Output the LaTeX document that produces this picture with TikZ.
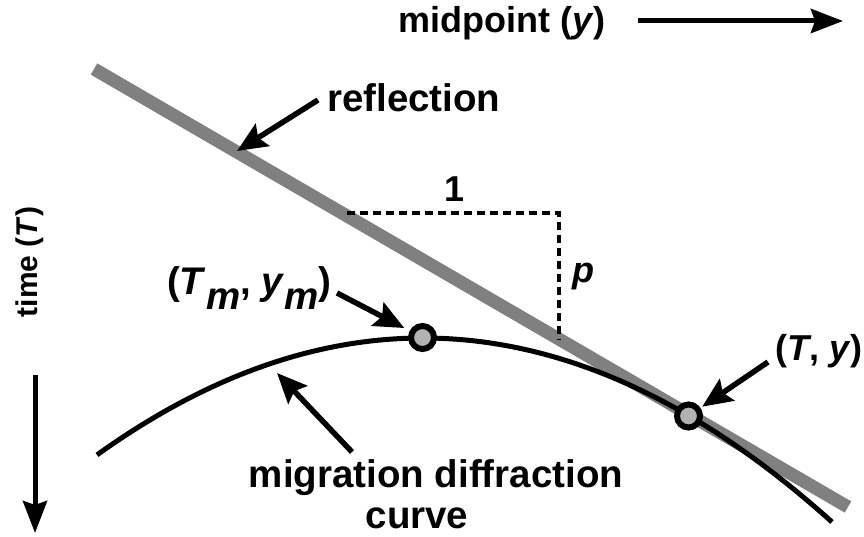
\documentclass[tikz,border=0pt]{standalone}
\usepackage{fontspec}
\setmainfont{Liberation Sans}
\usetikzlibrary{arrows.meta}
\begin{document}
\begin{tikzpicture}[x=1pt,y=-1pt,
  lbl/.style={font=\fontsize{36}{40}\selectfont\bfseries, inner sep=0pt},
  biglbl/.style={font=\fontsize{38.5}{42}\selectfont\bfseries, inner sep=0pt},
  ptr/.style={line width=5.5pt, -{Stealth[length=30pt,width=26pt,inset=5pt]}},
  axisarrow/.style={line width=5pt, -{Stealth[length=32pt,width=24pt,inset=4pt]}},
  pt/.style={circle, draw=black, line width=6pt, fill=black!30, minimum size=23pt, inner sep=0pt},
  refl/.style={line width=13pt, draw=black!50},
  guide/.style={line width=4.5pt, dash pattern=on 8pt off 5pt}]
\useasboundingbox (0,0) rectangle (864,537);
% reflection line
\coordinate (gA) at (94,69);
\coordinate (gB) at (848,507);
\draw[refl] (gA) -- (gB);
% slope triangle
\coordinate (d1) at (347,213);
\coordinate (d2) at (559,213);
\coordinate (d3) at (559,340);
\draw[guide] (d1) -- (d2) -- (d3);
% diffraction curve
\draw[line width=5pt] plot[domain=97:832, samples=90, smooth] (\x,{338+11*((\x-423)/100)^2});
% points
\node[pt] (pm) at (422.5,337.5) {};
\node[pt] (pr) at (688.5,416) {};
% labels
\node[lbl, anchor=base west] (mid) at (398,33) {midpoint (\textit{y})};
\node[biglbl, anchor=base west] (rlbl) at (327,112) {reflection};
\node[lbl, anchor=base] (one) at (455,202) {1};
\node[lbl, anchor=base west] (plbl) at (572,282) {\textit{p}};
\node[biglbl, anchor=base east] (tmlbl) at (332,294) {(\textit{T}\raisebox{-16pt}{\textit{m}}, \textit{y}\raisebox{-16pt}{\textit{m}})};
\node[lbl, anchor=base west] (tylbl) at (775,360) {(\textit{T}, \textit{y})};
\node[biglbl, anchor=base] (mdc1) at (436,487) {migration diffraction};
\node[biglbl, anchor=base] (mdc2) at (417,528) {curve};
\node[font=\fontsize{30}{34}\selectfont\bfseries, inner sep=0pt, rotate=90] (time) at (30,262) {time (\textit{T})};
% pointer arrows
\coordinate (rtail) at (318,100);
\coordinate (rtip) at (237,151);
\draw[ptr] (rtail) -- (rtip);
\coordinate (tmtail) at (337,293);
\draw[ptr, shorten >=6pt] (tmtail) -- (pm);
\coordinate (tytail) at (768,362);
\draw[ptr, shorten >=2pt] (tytail) -- (pr);
\coordinate (mtail) at (352,452);
\coordinate (mtip) at (277,373);
\draw[ptr] (mtail) -- (mtip);
% axis arrows
\coordinate (xa) at (638,21);
\coordinate (xb) at (843,21);
\draw[axisarrow] (xa) -- (xb);
\coordinate (ta) at (35,375);
\coordinate (tb) at (35,533);
\draw[axisarrow] (ta) -- (tb);
\end{tikzpicture}
\end{document}
